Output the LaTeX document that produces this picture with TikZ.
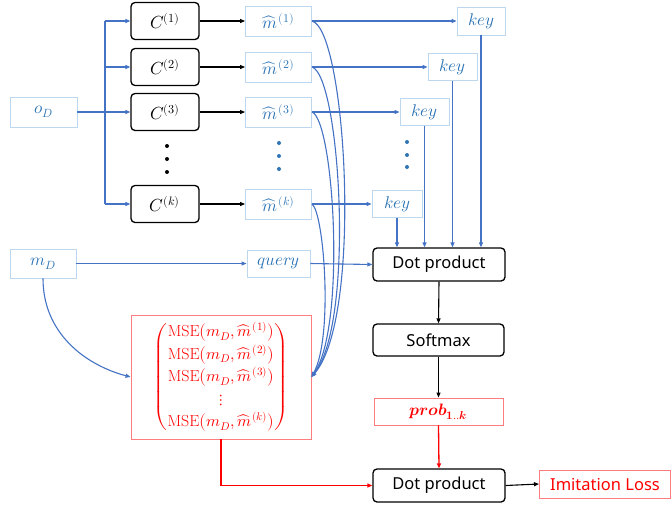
\documentclass[tikz,border=0pt]{standalone}
\usepackage{amsmath}
\usepackage{fontspec}
\usepackage{unicode-math}
\setmathfont{Latin Modern Math}
\newfontfamily\uisans{Noto Sans}
\usetikzlibrary{arrows.meta}
\definecolor{lnblue}{HTML}{4472C4}
\definecolor{txblue}{HTML}{2E75B6}
\definecolor{bxblue}{HTML}{BDD7EE}
\definecolor{bxred}{HTML}{FF7C80}
\newcommand\mhat{{\widehat{m}}}
\newcommand\mhs[1]{{\widehat{m}}^{\mkern2mu(#1)}}
\begin{document}
\begin{tikzpicture}[x=1pt,y=-1pt,
  >={Triangle[length=5pt,width=4pt]},
  lbox/.style={draw=bxblue,line width=0.9pt,text=txblue,inner sep=0pt,font=\fontsize{17}{20}\selectfont},
  rbox/.style={draw=bxred,line width=0.9pt,text=red,inner sep=0pt},
  kbox/.style={draw=black,line width=1.3pt,rounded corners=4pt,inner sep=0pt,font=\fontsize{16.5}{19}\selectfont},
  bl/.style={draw=lnblue,color=lnblue,line width=1.1pt},
  blk/.style={draw=black,line width=1.1pt},
  rd/.style={draw=red,color=red,line width=1.3pt},
  dotb/.style={fill=txblue,circle,inner sep=0pt,minimum size=4pt},
  dotk/.style={fill=black,circle,inner sep=0pt,minimum size=4pt}]
\useasboundingbox (0,0) rectangle (671,504);
% left inputs
\node[lbox,minimum width=67pt,minimum height=30pt] (oD) at (43.5,112) {$o_D$};
\node[lbox,minimum width=66pt,minimum height=29pt] (mD) at (43,263.5) {$m_D$};
% C boxes
\foreach \n/\y/\s in {1/21/1,2/67/2,3/112/3,k/204/k}{
  \node[kbox,minimum width=68pt,minimum height=37pt,font=\fontsize{17.5}{20}\selectfont] (C\n) at (165,\y) {$C^{(\s)}$};
  \node[lbox,minimum width=66pt,minimum height=30pt] (m\n) at (278.5,\y) {$\mhs{\s}$};
}
\node[dotk] (kd1) at (167,146) {};
\node[dotk] (kd2) at (167,159) {};
\node[dotk] (kd3) at (167,172) {};
\node[dotb] (md1) at (279,143) {};
\node[dotb] (md2) at (279,156) {};
\node[dotb] (md3) at (279,169) {};
% keys
\node[lbox,minimum width=48pt,minimum height=28pt] (key1) at (481,21) {$key$};
\node[lbox,minimum width=49pt,minimum height=27pt] (key2) at (452.5,67) {$key$};
\node[lbox,minimum width=49pt,minimum height=27pt] (key3) at (424.5,112) {$key$};
\node[lbox,minimum width=50pt,minimum height=27pt] (keyk) at (397,204) {$key$};
\node[dotb] (yd1) at (407,142) {};
\node[dotb] (yd2) at (407,155) {};
\node[dotb] (yd3) at (407,167) {};
% query
\node[lbox,minimum width=63pt,minimum height=27pt] (query) at (278.5,263.5) {$query$};
% right column
\node[kbox,minimum width=132pt,minimum height=33pt] (dot1) at (439,264.5) {\uisans Dot product};
\node[kbox,minimum width=131pt,minimum height=32pt] (soft) at (438.5,340) {\uisans Softmax};
\node[rbox,minimum width=129pt,minimum height=27pt,font=\fontsize{16.5}{19}\selectfont] (prob) at (438.5,411.5) {$\symbfit{prob}_{\symbf{1..}\symbfit{k}}$};
\node[kbox,minimum width=132pt,minimum height=33pt] (dot2) at (439,485.5) {\uisans Dot product};
\node[rbox,minimum width=131pt,minimum height=28pt,font=\uisans\fontsize{16.5}{19}\selectfont] (loss) at (605,484) {Imitation Loss};
% MSE
\node[rbox,minimum width=180pt,minimum height=124pt,font=\fontsize{16}{18}\selectfont] (mse) at (221,377)
 {$\renewcommand\arraystretch{1.25}\begin{pmatrix}
 \mathrm{MSE}\bigl(m_D,\mhs{1}\bigr)\\
 \mathrm{MSE}\bigl(m_D,\mhs{2}\bigr)\\
 \mathrm{MSE}\bigl(m_D,\mhs{3}\bigr)\\
 \vdots\\
 \mathrm{MSE}\bigl(m_D,\mhs{k}\bigr)
 \end{pmatrix}$};
% o_D branch
\coordinate (br) at (105,112);
\coordinate (brt) at (105,21);
\coordinate (brb) at (105,204);
\draw[bl] (oD.east) -- (br);
\draw[bl] (brt) -- (brb);
\foreach \n in {1,2,3,k}{
  \draw[bl,->] (br |- C\n) -- (C\n.west);
  \draw[blk,->] (C\n.east) -- (m\n.west);
  \draw[bl,->] (m\n.east) -- (key\n.west);
  \draw[bl,->] (key\n.south) -- (key\n.south |- dot1.north);
}
% curves to MSE
\draw[bl,->] (m1.east) .. controls +(34,8) and +(52,-60) .. (mse.east);
\draw[bl,->] (m2.east) .. controls +(28,8) and +(44,-55) .. (mse.east);
\draw[bl,->] (m3.east) .. controls +(22,8) and +(35,-50) .. (mse.east);
\draw[bl,->] (mk.east) .. controls +(12,8) and +(22,-40) .. (mse.east);
% m_D
\draw[bl,->] (mD.east) -- (query.west);
\draw[bl,->] (mD.south) .. controls +(0,55) and +(-45,-12) .. (mse.west);
\draw[bl,->] (query.east) -- (dot1.west);
% right column
\draw[blk,->] (dot1.south) -- (soft.north);
\draw[blk,->] (soft.south) -- (prob.north);
\draw[rd,->] (prob.south) -- (dot2.north);
\coordinate (rc) at (mse.south |- dot2.west);
\draw[rd,->] (mse.south) -- (rc) -- (dot2.west);
\draw[blk,->] (dot2.east) -- (loss.west);
\end{tikzpicture}
\end{document}
